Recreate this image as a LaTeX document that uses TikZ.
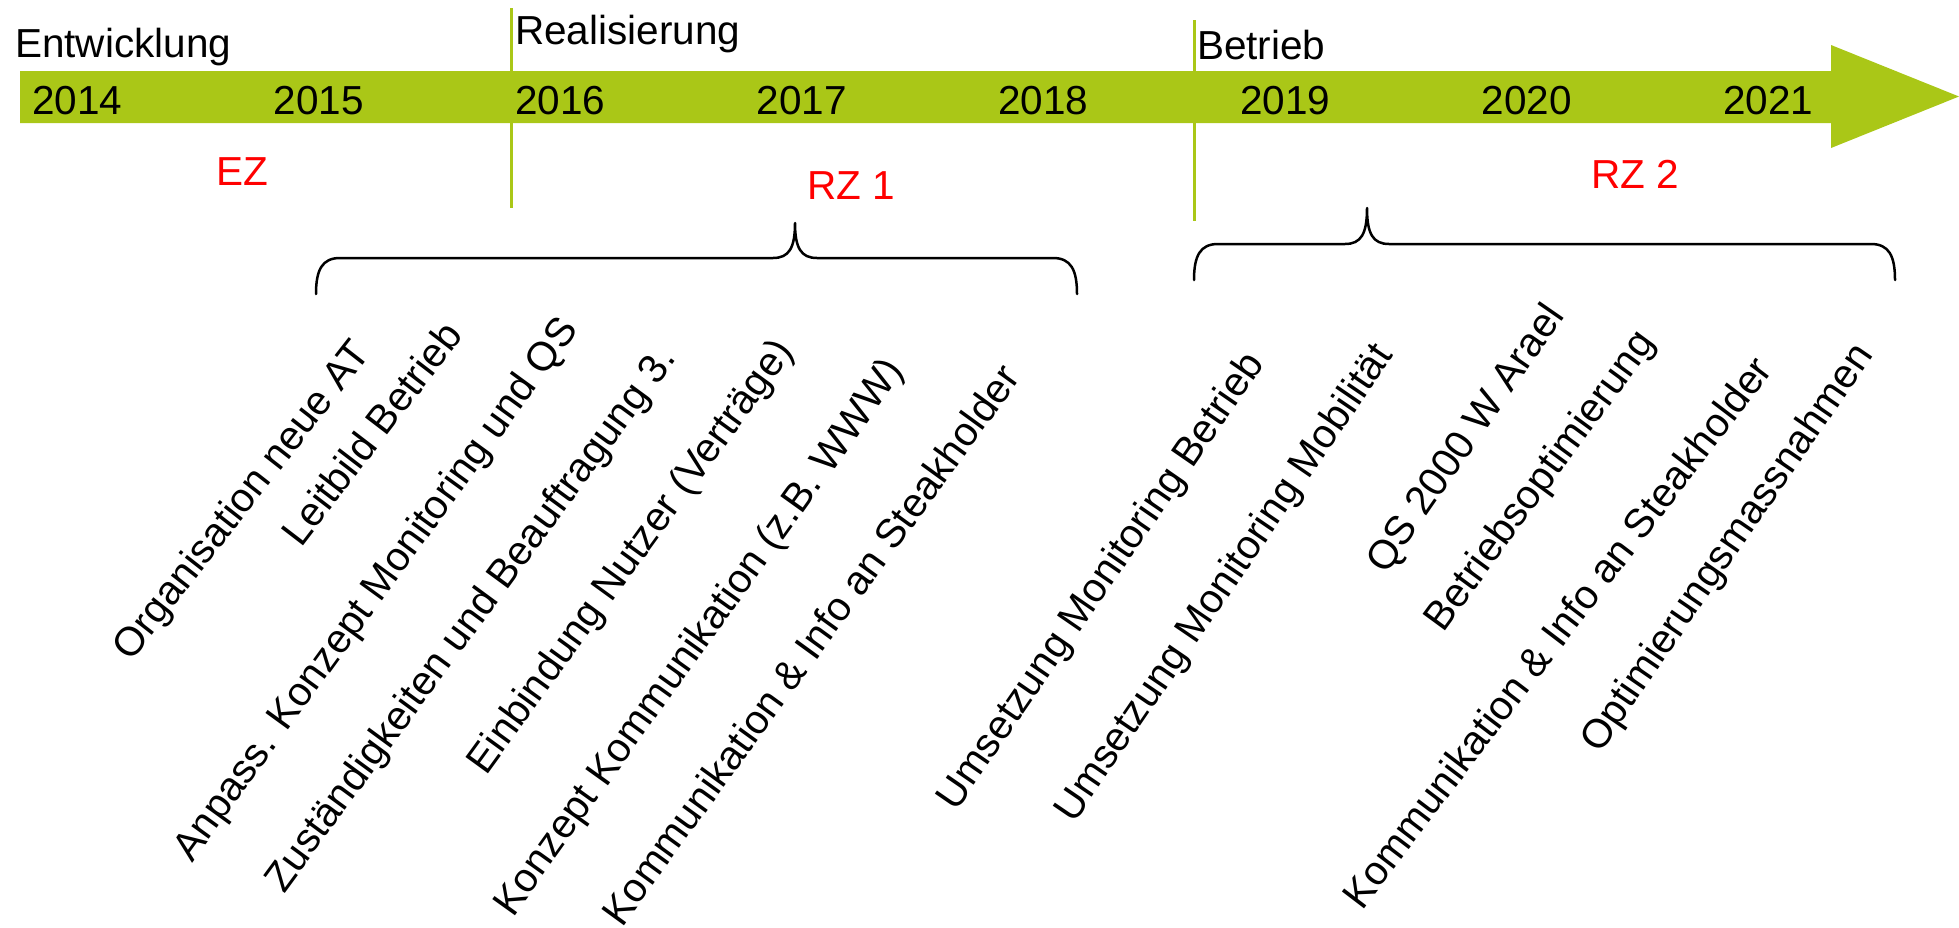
\documentclass[tikz,border=0pt]{standalone}
\usepackage{fontspec}
\setmainfont{Liberation Sans}
\definecolor{arrowgreen}{RGB}{170,199,23}
\definecolor{zonered}{RGB}{255,0,0}
\tikzset{
  lbl/.style={anchor=base west, inner sep=0pt, outer sep=0pt, font=\fontsize{40.5}{48}\selectfont},
  rlbl/.style={lbl, rotate=#1},
  zone/.style={lbl, text=zonered},
  phaseline/.style={draw=arrowgreen, line width=3pt},
  bracepath/.style={draw=black, line width=2.5pt, line cap=round, line join=round}
}
\begin{document}
\begin{tikzpicture}[x=1pt, y=-1pt]
\useasboundingbox (0,0) rectangle (1959,927);
% timeline arrow
\fill[arrowgreen] (20,71) -- (1831,71) -- (1831,45) -- (1959,96.5) -- (1831,148) -- (1831,123) -- (20,123) -- cycle;
% phase separators
\coordinate (s1t) at (511,8);
\coordinate (s1b) at (511,208);
\coordinate (s2t) at (1194,20);
\coordinate (s2b) at (1194,221);
\draw[phaseline] (s1t) -- (s1b);
\draw[phaseline] (s2t) -- (s2b);
% phase names
\node[lbl] (ph1) at (15,57) {Entwicklung};
\node[lbl] (ph2) at (515,44) {Realisierung};
\node[lbl] (ph3) at (1197,59) {Betrieb};
% years
\node[lbl] (y14) at (32,114) {2014};
\node[lbl] (y15) at (273.6,114) {2015};
\node[lbl] (y16) at (515.2,114) {2016};
\node[lbl] (y17) at (756.8,114) {2017};
\node[lbl] (y18) at (998.4,114) {2018};
\node[lbl] (y19) at (1240,114) {2019};
\node[lbl] (y20) at (1481.6,114) {2020};
\node[lbl] (y21) at (1723.2,114) {2021};
% zones
\node[zone] (ez) at (216,185) {EZ};
\node[zone] (rz1) at (807,199) {RZ 1};
\node[zone] (rz2) at (1591,188) {RZ 2};
% brace 1
\draw[bracepath] (316,294) .. controls (316,270) and (322,258) .. (340,258)
  -- (773,258) .. controls (789,258) and (795,248) .. (795,223)
  .. controls (795,248) and (801,258) .. (817,258)
  -- (1053,258) .. controls (1071,258) and (1077,270) .. (1077,294);
% brace 2
\draw[bracepath] (1194,280) .. controls (1194,256) and (1200,244) .. (1218,244)
  -- (1345,244) .. controls (1361,244) and (1367,234) .. (1367,208)
  .. controls (1367,234) and (1373,244) .. (1389,244)
  -- (1871,244) .. controls (1889,244) and (1895,256) .. (1895,280);
% tasks, group 1
\node[rlbl=52] (t1) at (131,662) {Organisation neue AT};
\node[rlbl=52.5] (t2) at (301,548) {Leitbild Betrieb};
\node[rlbl=54] (t3) at (192,863) {Anpass. Konzept Monitoring und QS};
\node[rlbl=53.7] (t4) at (284,894) {Zuständigkeiten und Beauftragung 3.};
\node[rlbl=54] (t5) at (486,776) {Einbindung Nutzer (Verträge)};
\node[rlbl=54.4] (t6) at (513,918) {Konzept Kommunikation (z.B. WWW)};
\node[rlbl=54] (t7) at (622,928) {Kommunikation \& Info an Steakholder};
% tasks, group 2
\node[rlbl=55.4] (t8) at (956,812) {Umsetzung Monitoring Betrieb};
\node[rlbl=55.7] (t9) at (1074,824) {Umsetzung Monitoring Mobilität};
\node[rlbl=55.3] (t10) at (1386,575) {QS 2000 W Arael};
\node[rlbl=53.7] (t11) at (1443,633) {Betriebsoptimierung};
\node[rlbl=52.7] (t12) at (1362,911) {Kommunikation \& Info an Steakholder};
\node[rlbl=55.5] (t13) at (1600,754) {Optimierungsmassnahmen};
\end{tikzpicture}
\end{document}
